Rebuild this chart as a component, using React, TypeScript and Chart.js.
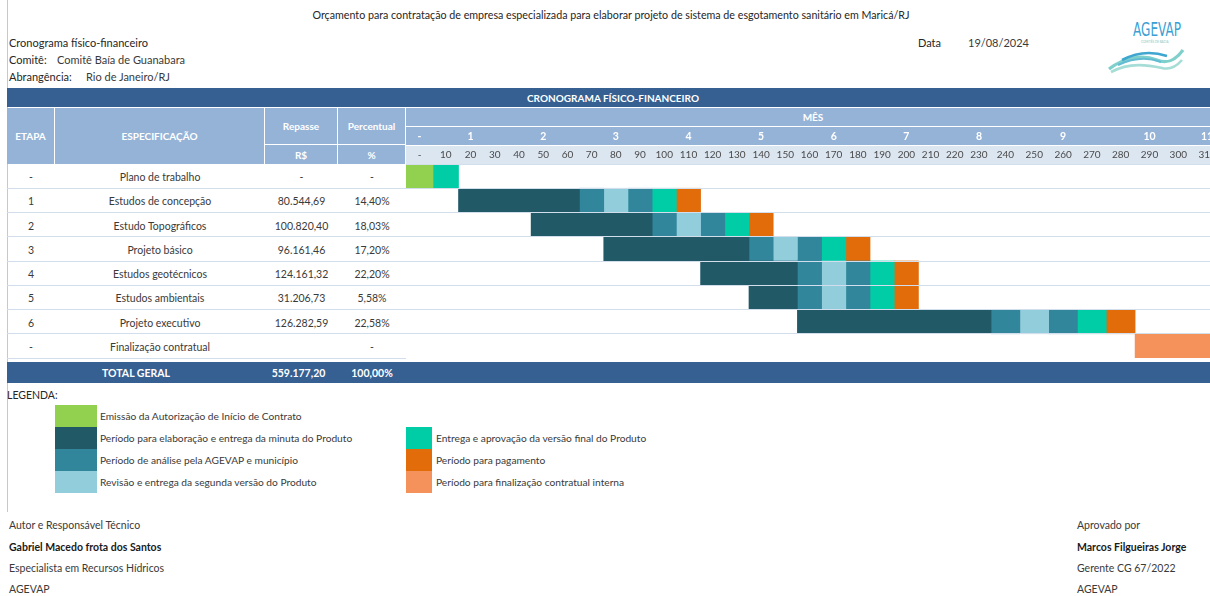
import React, { useEffect, useRef } from "react";
import { Chart, registerables, LinearScale } from "chart.js";

// ---------------- DATA ----------------
const TITLE =
  "Orçamento para contratação de empresa especializada para elaborar projeto de sistema de esgotamento sanitário em Maricá/RJ";
const SUBTITLE = "Cronograma físico-financeiro";
const COMITE = "Comitê Baía de Guanabara";
const ABRANGENCIA = "Rio de Janeiro/RJ";
const DATA_DOC = "19/08/2024";

const ETAPAS = ["-", "1", "2", "3", "4", "5", "6", "-"];
const SPECS = [
  "Plano de trabalho",
  "Estudos de concepção",
  "Estudo Topográficos",
  "Projeto básico",
  "Estudos geotécnicos",
  "Estudos ambientais",
  "Projeto executivo",
  "Finalização contratual",
];
const REPASSE = ["-", "80.544,69", "100.820,40", "96.161,46", "124.161,32", "31.206,73", "126.282,59", ""];
const PERCENTUAL = ["-", "14,40%", "18,03%", "17,20%", "22,20%", "5,58%", "22,58%", "-"];
const TOTAL_REPASSE = "559.177,20";
const TOTAL_PERCENTUAL = "100,00%";

// day columns of the schedule (value = column centre, in days)
const TICK_LABELS = ["-", "10", "20", "30", "40", "50", "60", "70", "80", "90", "100", "110", "120", "130", "140", "150", "160", "170", "180", "190", "200", "210", "220", "230", "240", "250", "260", "270", "280", "290", "300", "310"];
const TICK_VALUES = [-5, 5, 15, 25, 35, 45, 55, 65, 75, 85, 95, 105, 115, 125, 135, 145, 155, 165, 175, 185, 195, 205, 215, 225, 235, 245, 255, 265, 275, 285, 295, 305];
const MONTH_LABELS = ["-", "1", "2", "3", "4", "5", "6", "7", "8", "9", "10", "11"];
const MONTH_VALUES = [-5, 15, 45, 75, 105, 135, 165, 195, 225, 255, 285, 305];

// [start day, end day] per row (null = no segment)
const EMISSAO = [[-10, 0], null, null, null, null, null, null, null];
const ELABORACAO = [null, [10, 60], [40, 90], [70, 130], [110, 150], [130, 150], [150, 230], null];
const ANALISE_1 = [null, [60, 70], [90, 100], [130, 140], [150, 160], [150, 160], [230, 240], null];
const REVISAO = [null, [70, 80], [100, 110], [140, 150], [160, 170], [160, 170], [240, 250], null];
const ANALISE_2 = [null, [80, 90], [110, 120], [150, 160], [170, 180], [170, 180], [250, 260], null];
const ENTREGA = [[0, 10], [90, 100], [120, 130], [160, 170], [180, 190], [180, 190], [260, 270], null];
const PAGAMENTO = [null, [100, 110], [130, 140], [170, 180], [190, 200], [190, 200], [270, 280], null];
const FINALIZACAO = [null, null, null, null, null, null, null, [280, 330]];

const LEGEND_LABELS = [
  "Emissão da Autorização de Início de Contrato",
  "Período para elaboração e entrega da minuta do Produto",
  "Período de análise pela AGEVAP e município",
  "Revisão e entrega da segunda versão do Produto",
  "Entrega e aprovação da versão final do Produto",
  "Período para pagamento",
  "Período para finalização contratual interna",
];

// ---------------- STYLE ----------------
const C_GREEN = "#92d050";
const C_DARK = "#215967";
const C_TEAL = "#31869b";
const C_LIGHT = "#92cddc";
const C_MINT = "#00cca6";
const C_ORANGE = "#e26b0a";
const C_SALMON = "#f5915a";
const LEGEND_COLORS = [C_GREEN, C_DARK, C_TEAL, C_LIGHT, C_MINT, C_ORANGE, C_SALMON];

const NAVY = "#366092";
const HEAD = "#95b3d7";
const HEAD_LIGHT = "#dce6f1";
const ROW_LINE = "#d3deed";
const TXT = "#3a3a3a";
const FONT = "Lato, 'Open Sans', sans-serif";

const X_MIN = -10;
const X_MAX = 306;
// relative widths of the sheet's day columns ("-", 10, 20, ... , 310, ...)
const COLUMN_WIDTHS: number[] = [27, 25.5]
  .concat(Array(22).fill(24.2))
  .concat(Array(12).fill(28.8));

class SheetColumnScale extends LinearScale {
  static id = "sheetColumns";
  cumWidth(v: number) {
    const t = (v - X_MIN) / 10;
    const i = Math.floor(t);
    let acc = 0;
    if (i < 0) return t * COLUMN_WIDTHS[0];
    const n = COLUMN_WIDTHS.length;
    for (let k = 0; k < Math.min(i, n); k++) acc += COLUMN_WIDTHS[k];
    if (i >= n) return acc + (t - n) * COLUMN_WIDTHS[n - 1];
    return acc + (t - i) * COLUMN_WIDTHS[i];
  }
  getPixelForValue(value: any) {
    if (value === null || value === undefined || isNaN(value)) return NaN;
    const a = this.cumWidth(this.min);
    const b = this.cumWidth(this.max);
    return this.getPixelForDecimal((this.cumWidth(+value) - a) / (b - a));
  }
}

Chart.register(...registerables, SheetColumnScale);

const SERIES = [
  { label: LEGEND_LABELS[0], data: EMISSAO, color: C_GREEN },
  { label: LEGEND_LABELS[1], data: ELABORACAO, color: C_DARK },
  { label: LEGEND_LABELS[2], data: ANALISE_1, color: C_TEAL },
  { label: LEGEND_LABELS[3], data: REVISAO, color: C_LIGHT },
  { label: LEGEND_LABELS[2], data: ANALISE_2, color: C_TEAL },
  { label: LEGEND_LABELS[4], data: ENTREGA, color: C_MINT },
  { label: LEGEND_LABELS[5], data: PAGAMENTO, color: C_ORANGE },
  { label: LEGEND_LABELS[6], data: FINALIZACAO, color: C_SALMON },
];

const ROW_TOP = 164;
const ROW_H = 24.25;

const abs = (l: number, t: number, extra: React.CSSProperties = {}): React.CSSProperties => ({
  position: "absolute",
  left: l,
  top: t,
  ...extra,
});

function Txt(props: { x: number; y: number; children: any; bold?: boolean; color?: string; size?: number }) {
  return (
    <div
      style={abs(props.x, props.y - 7, {
        fontSize: props.size ?? 11,
        lineHeight: "14px",
        whiteSpace: "nowrap",
        fontWeight: props.bold ? 700 : 400,
        color: props.color ?? TXT,
      })}
    >
      {props.children}
    </div>
  );
}

function Cell(props: { l: number; t: number; w: number; h: number; bg?: string; children?: any; bold?: boolean; color?: string; size?: number; dy?: number }) {
  return (
    <div
      style={abs(props.l, props.t, {
        width: props.w,
        height: props.h,
        background: props.bg,
        display: "flex",
        alignItems: "center",
        justifyContent: "center",
        fontSize: props.size ?? 10.5,
        fontWeight: props.bold ? 700 : 400,
        color: props.color ?? TXT,
        whiteSpace: "nowrap",
        boxSizing: "border-box",
        paddingTop: props.dy ?? 0,
      })}
    >
      {props.children}
    </div>
  );
}

export default function App() {
  const ref = useRef<HTMLCanvasElement>(null);

  useEffect(() => {
    const chart = new Chart(ref.current!, {
      type: "bar",
      data: {
        labels: SPECS,
        datasets: SERIES.map((s) => ({
          label: s.label,
          data: s.data as any,
          backgroundColor: s.color,
          borderWidth: 0,
          grouped: false,
          barPercentage: 1,
          categoryPercentage: 1,
        })),
      },
      options: {
        indexAxis: "y",
        animation: false,
        responsive: false,
        maintainAspectRatio: false,
        events: [],
        layout: { padding: 0 },
        plugins: { legend: { display: false }, tooltip: { enabled: false } },
        scales: {
          x: {
            type: "sheetColumns" as any,
            position: "top",
            min: X_MIN,
            max: X_MAX,
            weight: 0,
            grid: { display: false, drawTicks: false },
            border: { display: false },
            ticks: {
              autoSkip: false,
              maxRotation: 0,
              padding: 3,
              color: "#4a4a4a",
              font: { family: FONT, size: 10 },
              callback: (_v: any, i: number) => TICK_LABELS[i],
            },
            afterBuildTicks: (s: any) => {
              s.ticks = TICK_VALUES.map((v) => ({ value: v }));
            },
            afterFit: (s: any) => {
              s.height = 19;
              s.paddingLeft = 0;
              s.paddingRight = 0;
            },
          },
          x2: {
            type: "sheetColumns" as any,
            position: "top",
            min: X_MIN,
            max: X_MAX,
            weight: 1,
            grid: { display: false, drawTicks: false },
            border: { display: false },
            ticks: {
              autoSkip: false,
              maxRotation: 0,
              padding: 2,
              color: "#ffffff",
              font: { family: FONT, size: 10.5, weight: "bold" },
              callback: (_v: any, i: number) => MONTH_LABELS[i],
            },
            afterBuildTicks: (s: any) => {
              s.ticks = MONTH_VALUES.map((v) => ({ value: v }));
            },
            afterFit: (s: any) => {
              s.height = 19;
              s.paddingLeft = 0;
              s.paddingRight = 0;
            },
          },
          y: {
            type: "category",
            display: true,
            ticks: { display: false },
            grid: { color: ROW_LINE, lineWidth: 1, drawTicks: false, offset: true, z: 1 },
            border: { display: false },
            afterFit: (s: any) => {
              s.width = 0;
            },
          },
        },
      } as any,
    });
    return () => chart.destroy();
  }, []);

  const legendLeft = [0, 1, 2, 3];
  const legendRight = [4, 5, 6];

  return (
    <div
      style={{
        position: "fixed",
        left: 0,
        top: 0,
        width: 1210,
        height: 596,
        background: "#fff",
        overflow: "hidden",
        fontFamily: FONT,
        color: TXT,
      }}
    >
      {/* left sheet border */}
      <div style={abs(7, 0, { width: 1, height: 512, background: "#c8c8c8" })} />

      {/* title block */}
      <div
        style={abs(211, 8, {
          width: 800,
          textAlign: "center",
          fontSize: 10.7,
          lineHeight: "14px",
          color: "#262626",
          whiteSpace: "nowrap",
        })}
      >
        {TITLE}
      </div>
      <Txt x={9} y={43} color="#262626">{SUBTITLE}</Txt>
      <Txt x={9} y={60} color="#262626">Comitê:</Txt>
      <Txt x={57} y={60}>{COMITE}</Txt>
      <Txt x={9} y={77} color="#262626">Abrangência:</Txt>
      <Txt x={86} y={77}>{ABRANGENCIA}</Txt>
      <Txt x={918} y={43} color="#262626">Data</Txt>
      <Txt x={968} y={43}>{DATA_DOC}</Txt>

      {/* logo */}
      <svg style={abs(1104, 12)} width={84} height={62} viewBox="0 0 84 62">
        <text
          x={29}
          y={24}
          fontFamily="'DejaVu Sans Condensed', 'Liberation Sans Narrow', sans-serif"
          fontSize={19}
          fill="#3a9fd4"
          textLength={48}
          lengthAdjust="spacingAndGlyphs"
        >
          AGEVAP
        </text>
        <text x={37} y={31} fontFamily={FONT} fontSize={3} fill="#8cbfb8">
          COMITÊS DE BACIA
        </text>
        <path d="M5,57 C22,44 40,43 53,48 C63,52 71,49 79,38" stroke="#7fd0cb" strokeWidth={3.2} fill="none" />
        <path d="M7,60 C26,50 44,53 58,56 C66,58 72,55 78,48" stroke="#a6ddd6" strokeWidth={2.6} fill="none" />
        <path d="M18,48 C33,40 48,39 63,44" stroke="#3fa6d0" strokeWidth={2.6} fill="none" />
        <path d="M14,53 C29,46 44,45 57,50" stroke="#62bcd4" strokeWidth={2} fill="none" />
      </svg>

      {/* title band */}
      <div style={abs(7, 88, { width: 1203, height: 19, background: NAVY })} />
      <Cell l={7} t={88} w={1212} h={19} bold color="#fff" size={10}>
        CRONOGRAMA FÍSICO-FINANCEIRO
      </Cell>

      {/* table header */}
      <Cell l={7} t={108} w={47} h={56} bg={HEAD} bold color="#fff" size={10}>ETAPA</Cell>
      <Cell l={55} t={108} w={209} h={56} bg={HEAD} bold color="#fff" size={10}>ESPECIFICAÇÃO</Cell>
      <Cell l={265} t={108} w={72} h={36} bg={HEAD} bold color="#fff" size={10}>Repasse</Cell>
      <Cell l={338} t={108} w={67} h={36} bg={HEAD} bold color="#fff" size={10}>Percentual</Cell>
      <Cell l={265} t={145} w={72} h={19} bg={HEAD} bold color="#fff" size={10}>R$</Cell>
      <Cell l={338} t={145} w={67} h={19} bg={HEAD} bold color="#fff" size={10}>%</Cell>
      <div style={abs(406, 108, { width: 804, height: 18, background: HEAD })} />
      <Cell l={406} t={108} w={814} h={18} bold color="#fff" size={10}>MÊS</Cell>
      <div style={abs(406, 127, { width: 804, height: 18, background: HEAD })} />
      <div style={abs(406, 146, { width: 804, height: 18, background: HEAD_LIGHT })} />

      {/* table body */}
      {SPECS.map((s, i) => {
        const t = ROW_TOP + i * ROW_H;
        return (
          <React.Fragment key={i}>
            <Cell l={7} t={t} w={48} h={ROW_H} dy={2}>{ETAPAS[i]}</Cell>
            <Cell l={55} t={t} w={210} h={ROW_H} dy={2}>{s}</Cell>
            <Cell l={265} t={t} w={73} h={ROW_H} dy={2}>{REPASSE[i]}</Cell>
            <Cell l={338} t={t} w={68} h={ROW_H} dy={2}>{PERCENTUAL[i]}</Cell>
            <div style={abs(7, t + ROW_H - 0.5, { width: 399, height: 1, background: ROW_LINE })} />
          </React.Fragment>
        );
      })}

      {/* gantt */}
      <canvas
        ref={ref}
        width={804}
        height={232}
        style={abs(406, 126, { width: 804, height: 232 })}
      />

      {/* total */}
      <div style={abs(7, 362, { width: 1203, height: 21, background: NAVY })} />
      <Cell l={7} t={362} w={258} h={21} bold color="#fff" size={10.5}>TOTAL GERAL</Cell>
      <Cell l={262} t={362} w={73} h={21} bold color="#fff" size={10.5}>{TOTAL_REPASSE}</Cell>
      <Cell l={338} t={362} w={68} h={21} bold color="#fff" size={10.5}>{TOTAL_PERCENTUAL}</Cell>

      {/* legend */}
      <Txt x={7} y={395} color="#262626" size={10.5}>LEGENDA:</Txt>
      {legendLeft.map((k, j) => (
        <React.Fragment key={"l" + k}>
          <div style={abs(55, 405 + j * 22, { width: 42, height: 22, background: LEGEND_COLORS[k] })} />
          <Txt x={100} y={416 + j * 22} size={10.2}>{LEGEND_LABELS[k]}</Txt>
        </React.Fragment>
      ))}
      {legendRight.map((k, j) => (
        <React.Fragment key={"r" + k}>
          <div style={abs(406, 427 + j * 22, { width: 26, height: 22, background: LEGEND_COLORS[k] })} />
          <Txt x={436} y={438 + j * 22} size={10.2}>{LEGEND_LABELS[k]}</Txt>
        </React.Fragment>
      ))}

      {/* signatures */}
      <Txt x={9} y={525} size={10.5}>Autor e Responsável Técnico</Txt>
      <Txt x={9} y={547} size={10.5} color="#1a1a1a" bold>Gabriel Macedo frota dos Santos</Txt>
      <Txt x={9} y={568} size={10.5}>Especialista em Recursos Hídricos</Txt>
      <Txt x={9} y={589} size={10.5}>AGEVAP</Txt>
      <Txt x={1077} y={525} size={10.5}>Aprovado por</Txt>
      <Txt x={1077} y={547} size={10.5} color="#1a1a1a" bold>Marcos Filgueiras Jorge</Txt>
      <Txt x={1077} y={568} size={10.5}>Gerente CG 67/2022</Txt>
      <Txt x={1077} y={589} size={10.5}>AGEVAP</Txt>
    </div>
  );
}
